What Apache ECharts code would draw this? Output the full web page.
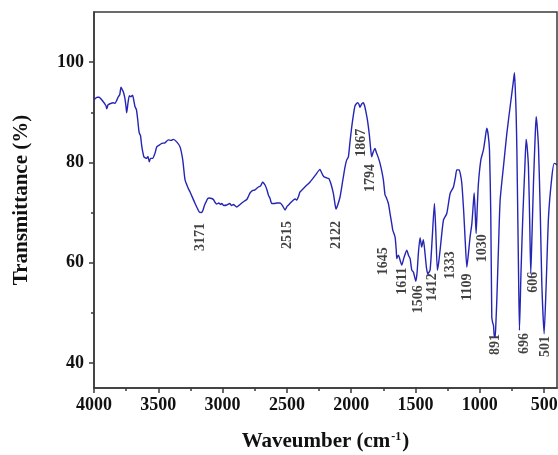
<!DOCTYPE html>
<html>
<head>
<meta charset="utf-8">
<script src="https://cdn.jsdelivr.net/npm/echarts@6/dist/echarts.min.js"></script>
<style>html,body{margin:0;padding:0;background:#fff;}#c{width:558px;height:455px;}</style>
</head>
<body>
<div id="c"></div>
<script>
const wavenumber = [4000,3975,3961,3928,3907,3901,3890,3876,3850,3837,3811,3800,3790,3782,3772,3760,3751,3746,3735,3725,3712,3700,3694,3681,3670,3660,3652,3647,3638,3630,3621,3612,3600,3591,3580,3570,3560,3544,3526,3512,3490,3473,3448,3422,3400,3383,3357,3331,3310,3292,3270,3253,3214,3181,3165,3155,3140,3129,3115,3103,3085,3072,3058,3046,3030,3015,3007,2990,2968,2945,2930,2917,2890,2870,2851,2830,2812,2800,2787,2765,2748,2735,2722,2705,2688,2683,2670,2655,2644,2631,2618,2597,2579,2553,2535,2514,2500,2488,2470,2449,2435,2423,2410,2398,2360,2320,2280,2242,2237,2220,2211,2190,2178,2170,2155,2139,2125,2118,2105,2087,2065,2048,2035,2022,2010,1996,1980,1970,1952,1940,1932,1920,1906,1895,1885,1874,1859,1850,1841,1830,1815,1805,1797,1785,1776,1762,1750,1737,1729,1711,1698,1685,1677,1659,1650,1646,1640,1633,1620,1607,1590,1568,1555,1542,1529,1516,1498,1488,1478,1465,1458,1452,1439,1426,1415,1405,1387,1370,1353,1342,1330,1320,1309,1283,1257,1231,1205,1190,1179,1161,1150,1140,1125,1114,1101,1090,1076,1062,1050,1044,1036,1029,1020,1011,992,972,960,946,935,925,915,907,900,894,888,881,875,868,855,842,815,790,760,740,731,725,718,712,700,692,680,666,650,640,632,622,612,604,595,583,570,562,555,544,530,518,500,485,466,440,422,410,400];
const transmittance = [92.5,93.0,93.0,92.1,91.3,90.7,91.5,91.7,91.9,91.8,93.1,93.5,95.0,94.6,94.1,92.8,91.1,89.9,92.0,93.3,93.1,93.4,92.8,91.1,90.5,88.5,86.5,85.8,85.3,83.5,82.1,81.1,80.9,80.8,81.2,80.1,80.8,80.8,81.8,83.1,83.5,83.8,83.9,84.5,84.4,84.6,84.1,83.1,80.5,76.5,75.0,74.1,71.8,70.1,70.0,70.3,71.5,72.1,72.8,72.9,72.8,72.6,72.0,71.7,71.9,71.6,71.8,71.4,71.5,71.8,71.4,71.6,71.1,71.5,71.9,72.3,72.6,73.2,73.9,74.4,74.5,74.8,75.1,75.3,76.1,76.1,75.5,74.5,73.5,72.8,71.8,71.8,71.9,71.9,71.4,70.5,71.2,71.5,72.0,72.5,72.7,72.5,73.2,74.1,75.1,76.1,77.4,78.6,78.6,77.4,77.1,76.9,76.8,76.6,75.5,73.8,71.5,70.7,71.5,73.1,76.5,79.1,80.5,81.1,84.0,87.1,90.0,91.3,91.9,91.6,91.0,91.6,91.9,91.2,90.0,88.5,85.5,83.0,81.1,82.0,82.8,82.0,81.5,80.6,79.8,78.2,76.5,73.5,73.1,71.8,69.8,67.8,66.5,65.1,62.5,60.8,61.2,61.5,60.5,59.5,61.0,62.5,61.5,60.8,58.5,58.1,56.3,58.0,61.8,65.0,64.0,63.1,64.6,61.8,59.0,57.8,58.5,65.0,71.8,66.0,58.5,60.0,62.5,68.5,69.8,73.8,75.1,77.0,78.5,78.5,77.5,75.8,70.0,64.5,59.1,61.5,65.1,67.8,72.0,73.9,70.0,65.8,71.0,75.8,80.5,82.5,84.5,86.8,85.5,82.5,70.0,49.1,48.0,47.5,45.5,45.1,48.0,52.5,63.0,72.5,79.5,85.8,92.0,96.0,97.9,95.0,90.0,82.5,60.0,46.5,58.0,69.1,79.0,84.6,83.0,79.1,68.0,57.8,65.0,75.8,85.0,89.1,87.5,83.1,70.0,55.8,45.8,55.0,69.1,77.1,79.8,79.7,79.5];

const peakLabels = ['3171','2515','2122','1867','1794','1645','1611','1506','1412','1333','1109','1030','891','696','606','501'];
const peakLabelX = [3176,2499,2118,1924,1853,1752,1604,1480,1371,1231,1099,982,881,656,586,492];
const peakLabelY = [65.1,65.5,65.5,83.9,76.9,60.3,56.3,52.7,55.1,59.5,55.1,62.9,43.7,43.9,56.1,43.3];

const xMajorTicks = [500,1000,1500,2000,2500,3000,3500,4000];
const xMinorTicks = [750,1250,1750,2250,2750,3250,3750];
const yMajorTicks = [40,60,80,100];
const yMinorTicks = [50,70,90];

const FONT = '"Liberation Serif", "Times New Roman", serif';
const AX = '#3a3a3a';

const chart = echarts.init(document.getElementById('c'), null, {renderer: 'canvas'});
chart.setOption({
  animation: false,
  grid: {left: 94, right: 1, top: 12, bottom: 67, containLabel: false, outerBoundsMode: 'none',
    show: true, borderColor: AX, borderWidth: 1.5, backgroundColor: 'transparent'},
  xAxis: [{
    type: 'value', min: 400, max: 4000, inverse: true, position: 'bottom',
    axisLine: {show: true, lineStyle: {color: AX, width: 1.5}},
    axisTick: {show: true, customValues: xMajorTicks, length: 5, lineStyle: {color: AX, width: 1.5}},
    axisLabel: {customValues: xMajorTicks, formatter: v => String(v), margin: 8, color: '#111', fontFamily: FONT, fontWeight: 'bold', fontSize: 18},
    splitLine: {show: false},
    name: 'Waveumber (cm{sup|-1})', nameLocation: 'middle', nameGap: 43,
    nameTextStyle: {color: '#111', fontFamily: FONT, fontWeight: 'bold', fontSize: 21,
      rich: {sup: {fontFamily: FONT, fontWeight: 'bold', fontSize: 12, verticalAlign: 'top', padding: [0, 1, 10, 1], color: '#111'}}}
  }, {
    type: 'value', min: 400, max: 4000, inverse: true, position: 'bottom', offset: 0,
    axisLine: {show: false},
    axisTick: {show: true, customValues: xMinorTicks, length: 3, lineStyle: {color: AX, width: 1.5}},
    axisLabel: {show: false}, splitLine: {show: false}
  }],
  yAxis: [{
    type: 'value', min: 35, max: 110, position: 'left',
    axisLine: {show: true, lineStyle: {color: AX, width: 1.5}},
    axisTick: {show: true, customValues: yMajorTicks, length: 5, lineStyle: {color: AX, width: 1.5}},
    axisLabel: {customValues: yMajorTicks, formatter: v => String(v), margin: 10, color: '#111', fontFamily: FONT, fontWeight: 'bold', fontSize: 18},
    splitLine: {show: false},
    name: 'Transmittance (%)', nameLocation: 'middle', nameGap: 62, nameRotate: 90,
    nameTextStyle: {color: '#111', fontFamily: FONT, fontWeight: 'bold', fontSize: 21}
  }, {
    type: 'value', min: 35, max: 110, position: 'left', offset: 0,
    axisLine: {show: false},
    axisTick: {show: true, customValues: yMinorTicks, length: 3, lineStyle: {color: AX, width: 1.5}},
    axisLabel: {show: false}, splitLine: {show: false}
  }],
  series: [{
    type: 'line', xAxisIndex: 0, yAxisIndex: 0,
    data: wavenumber.map((w, i) => [w, transmittance[i]]),
    showSymbol: false, symbol: 'none', smooth: 0.2,
    lineStyle: {color: '#2525b5', width: 1.4}
  }, {
    type: 'scatter', xAxisIndex: 0, yAxisIndex: 0,
    symbolSize: 0, silent: true,
    data: peakLabels.map((t, i) => ({name: t, value: [peakLabelX[i], peakLabelY[i]]})),
    label: {show: true, position: 'inside', rotate: 90, formatter: p => p.name,
      color: '#111', fontFamily: FONT, fontWeight: 'bold', fontSize: 14}
  }]
});
</script>
</body>
</html>
